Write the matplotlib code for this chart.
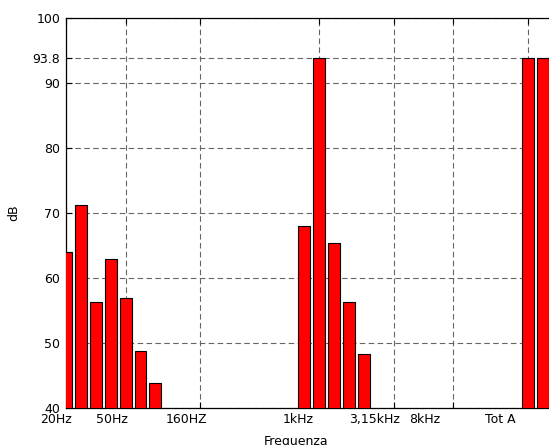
import matplotlib
matplotlib.use("Agg")
import matplotlib.pyplot as plt
import matplotlib.transforms as mtransforms

# band levels in dB (33 bars: third-octave bands 20Hz..20kHz, then totals)
levels = [64.0, 71.2, 56.3, 62.9, 56.9, 48.7, 43.9,
          0, 0, 0, 0, 0, 0, 0, 0, 0,
          68.0, 93.8, 65.4, 56.3, 48.3,
          0, 0, 0, 0, 0, 0, 0, 0, 0, 0,
          93.8, 93.8]
tick_pos = [1, 5, 10, 18, 23, 27, 32]
tick_labels = ["20Hz", "50Hz", "160HZ", "1kHz", "3,15kHz", "8kHz", "Tot A"]
label_pos = [0.33, 4.09, 9.12, 16.57, 21.74, 25.09, 30.13]
yticks = [40, 50, 60, 70, 80, 90, 93.8, 100]

plt.rcParams["font.family"] = ["DejaVu Sans"]
plt.rcParams["font.size"] = 9

fig = plt.figure(figsize=(5.49, 4.45), dpi=100)
ax = fig.add_axes([66 / 549, 37 / 445, 483 / 549, 390 / 445])

x = list(range(1, len(levels) + 1))
ax.bar(x, levels, width=0.8, color="#ff0000", edgecolor="black", linewidth=0.8, zorder=3)

ax.set_xlim(1, 33.42)
ax.set_ylim(40, 100)
ax.set_yticks(yticks)
ax.set_yticklabels(["40", "50", "60", "70", "80", "90", "93.8", "100"])
ax.set_xticks(tick_pos)
ax.set_xticklabels([""] * len(tick_pos))

trans = mtransforms.blended_transform_factory(ax.transData, ax.transAxes)
for p, lab in zip(label_pos, tick_labels):
    ax.text(p, -0.012, lab, transform=trans, ha="center", va="top", clip_on=False)

ax.grid(True, color="0.4", linestyle=(0, (5, 3)), linewidth=0.8, zorder=0)
ax.tick_params(direction="in", top=True, length=4, width=0.8, pad=4, colors="black")
for s in ["left", "top", "bottom"]:
    ax.spines[s].set_linewidth(0.9)
ax.spines["right"].set_visible(False)

ax.set_xlabel("Frequenza")
ax.xaxis.set_label_coords(0.476, -0.069)
ax.set_ylabel("dB")
ax.yaxis.set_label_coords(-0.095, 0.5)

fig.savefig("out.png", dpi=100)
